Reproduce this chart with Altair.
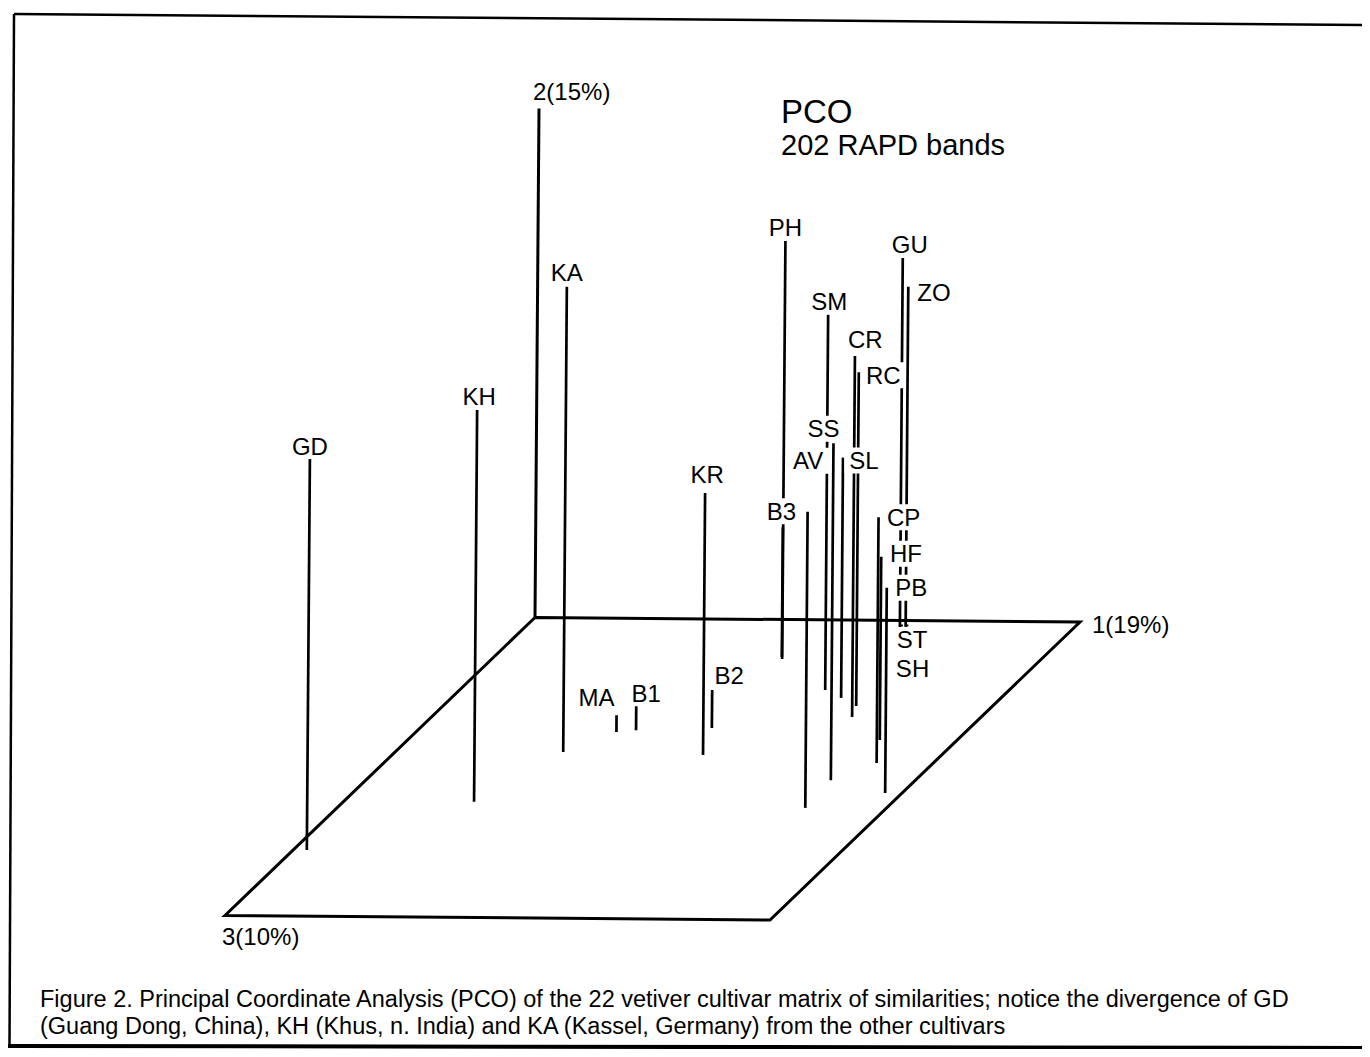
import altair as alt
import pandas as pd

# ---------------- data ----------------
cultivars = ["GD", "KH", "KA", "MA", "B1", "B2", "KR", "PH", "B3", "AV", "SM",
             "SS", "SL", "CR", "RC", "CP", "HF", "PB", "GU", "ZO", "ST", "SH"]
# coordinates along the three PCO axes, as fractions of each drawn axis
pco1 = [0.025, 0.238, 0.306, 0.365, 0.397, 0.531, 0.566, 0.528, 0.524, 0.852, 0.665,
        0.846, 0.709, 0.765, 0.752, 0.897, 0.859, 0.969, 0.682, 0.692, 0.684, 0.694]
pco2 = [0.770, 0.770, 0.914, 0.033, 0.049, 0.075, 0.515, 0.823, 0.255, 0.582, 0.737,
        0.662, 0.472, 0.709, 0.656, 0.483, 0.360, 0.403, 0.725, 0.668, 0.004, 0.004]
pco3 = [0.780, 0.615, 0.447, 0.379, 0.372, 0.363, 0.453, 0.131, 0.125, 0.626, 0.233,
        0.533, 0.259, 0.322, 0.286, 0.475, 0.398, 0.574, 0.022, 0.021, 0.020, 0.020]

axis_names = ["1(19%)", "2(15%)", "3(10%)"]
title_lines = ["PCO", "202 RAPD bands"]
caption_lines = [
    "Figure 2. Principal Coordinate Analysis (PCO) of the 22 vetiver cultivar matrix of similarities; notice the divergence of GD",
    "(Guang Dong, China), KH (Khus, n. India) and KA (Kassel, Germany) from the other cultivars",
]

# ---------------- layout / style ----------------
FONT = "Liberation Sans"
LABEL_FS = 24
# label nudges (px) relative to the top of each line
label_dx = [0, 2, 0, -20, 10, 17, 2, 0, -1.5, 0.5, 1, -10, 21, 10.4, 24.5, 25, 24.7, 24.5, 7, 25.7, 10.5, 5.5]
label_dy = [-12, -13, -14, -18, -12, -14, -18, -12, -16, -51, -13.5, -14.5, 3, -16, 3, 0, -3, 0, -13, 5.5, 15.5, 44.5]
MASK_HALF_H = 13

# oblique projection of the 3 axes onto the page
ORIGIN = (535.0, 617.5)
E1 = (545.0, 4.5)
E2 = (4.0, -509.0)
E3 = (-310.0, 298.0)


def proj(a, b, c):
    return (ORIGIN[0] + E1[0] * a + E2[0] * b + E3[0] * c,
            ORIGIN[1] + E1[1] * a + E2[1] * b + E3[1] * c)


CHAR_W = {"G": .778, "D": .722, "K": .667, "H": .722, "A": .667, "M": .833, "B": .667,
          "1": .556, "2": .556, "3": .556, "R": .722, "P": .667, "S": .667, "C": .722,
          "U": .722, "Z": .611, "O": .778, "V": .667, "L": .556, "F": .611, "T": .611}

rows = []
for name, a, b, c, dx, dy in zip(cultivars, pco1, pco2, pco3, label_dx, label_dy):
    xb, yb = proj(a, 0, c)
    xt, yt = proj(a, b, c)
    lx, ly = xt + dx, yt + dy
    hw = sum(CHAR_W[ch] for ch in name) * LABEL_FS / 2 + 5
    rows.append(dict(name=name, xb=xb, yb=yb, xt=xt, yt=yt,
                     lx=lx, ly=ly + 0.058 * LABEL_FS,
                     mx0=lx - hw, mx1=lx + hw,
                     my0=ly - MASK_HALF_H, my1=ly + MASK_HALF_H))
pts = pd.DataFrame(rows)

floor_order = [(0, 0), (1, 0), (1, 1), (0, 1), (0, 0)]
floor = pd.DataFrame([dict(order=i, x=proj(a, 0, c)[0], y=proj(a, 0, c)[1])
                      for i, (a, c) in enumerate(floor_order)])
o = proj(0, 0, 0)
t2 = proj(0, 1, 0)
axis2 = pd.DataFrame([dict(x=o[0], y=o[1], x2=t2[0], y2=t2[1])])

e1 = proj(1, 0, 0)
e3 = proj(0, 0, 1)
axlab = pd.DataFrame([
    dict(t=axis_names[0], x=e1[0] + 12, y=e1[1] + 11),
    dict(t=axis_names[1], x=t2[0] - 6, y=t2[1] - 8.5),
    dict(t=axis_names[2], x=e3[0] - 3, y=e3[1] + 29.5),
])

W, H = 1354, 1041
xs = alt.Scale(domain=[8, 8 + W], nice=False, zero=False)
ys = alt.Scale(domain=[8, 8 + H], nice=False, zero=False, reverse=True)


def X(f):
    return alt.X(f, type="quantitative", scale=xs, axis=None)


def Y(f):
    return alt.Y(f, type="quantitative", scale=ys, axis=None)


def pv(v):
    return alt.value(v - 8)


floor_layer = alt.Chart(floor).mark_line(color="black", strokeWidth=3, strokeJoin="miter").encode(
    x=X("x"), y=Y("y"), order="order:Q")
axis2_layer = alt.Chart(axis2).mark_rule(color="black", strokeWidth=3).encode(
    x=X("x"), y=Y("y"), x2="x2:Q", y2="y2:Q")
lines_layer = alt.Chart(pts).mark_rule(color="black", strokeWidth=2.7).encode(
    x=X("xb"), y=Y("yb"), x2="xt:Q", y2="yt:Q")
mask_layer = alt.Chart(pts).mark_rect(color="white").encode(
    x=X("mx0"), x2="mx1:Q", y=Y("my0"), y2="my1:Q")
label_layer = alt.Chart(pts).mark_text(font=FONT, fontSize=LABEL_FS, align="center",
                                       baseline="middle", color="black").encode(
    x=X("lx"), y=Y("ly"), text="name:N")
axlab_layer = alt.Chart(axlab).mark_text(font=FONT, fontSize=24, align="left",
                                         baseline="alphabetic", color="black").encode(
    x=X("x"), y=Y("y"), text="t:N")

title1 = alt.Chart(pd.DataFrame({"t": [title_lines[0]]})).mark_text(
    font=FONT, fontSize=33, align="left", baseline="alphabetic", color="black").encode(
    x=pv(781), y=pv(123), text="t:N")
title2 = alt.Chart(pd.DataFrame({"t": [title_lines[1]]})).mark_text(
    font=FONT, fontSize=29, align="left", baseline="alphabetic", color="black").encode(
    x=pv(781), y=pv(155), text="t:N")
cap1 = alt.Chart(pd.DataFrame({"t": [caption_lines[0]]})).mark_text(
    font=FONT, fontSize=23.5, align="left", baseline="alphabetic", color="black").encode(
    x=pv(40), y=pv(1007), text="t:N")
cap2 = alt.Chart(pd.DataFrame({"t": [caption_lines[1]]})).mark_text(
    font=FONT, fontSize=23.5, align="left", baseline="alphabetic", color="black").encode(
    x=pv(40), y=pv(1034), text="t:N")

frame_top = alt.Chart(pd.DataFrame({"k": [0]})).mark_rule(color="black", strokeWidth=2.5).encode(
    x=pv(14), y=pv(14), x2=pv(1362), y2=pv(25))
frame_left = alt.Chart(pd.DataFrame({"k": [0]})).mark_rule(color="black", strokeWidth=2.5).encode(
    x=pv(14), y=pv(14), x2=pv(9.5), y2=pv(1046))
frame_bottom = alt.Chart(pd.DataFrame({"k": [0]})).mark_rule(color="black", strokeWidth=4).encode(
    x=pv(8), y=pv(1046), x2=pv(1362), y2=pv(1048))

chart = alt.layer(
    frame_top, frame_left, frame_bottom,
    floor_layer, axis2_layer, lines_layer, mask_layer, label_layer, axlab_layer,
    title1, title2, cap1, cap2,
).properties(
    width=W, height=H, padding=0,
    autosize=alt.AutoSizeParams(type="none"),
    background="white",
).configure_view(stroke=None)

chart.save("out.html", embed_options={"renderer": "svg", "actions": False})
